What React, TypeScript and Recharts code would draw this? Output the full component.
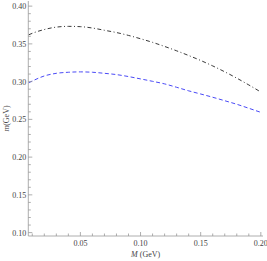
import { LineChart, Line, XAxis, YAxis } from 'recharts';

// M (GeV) sample points
const mass = [0.007, 0.01, 0.02, 0.03, 0.04, 0.05, 0.06, 0.07, 0.08, 0.09, 0.1, 0.11, 0.12, 0.13, 0.14, 0.15, 0.16, 0.17, 0.18, 0.19, 0.2];
// dot-dashed (black) curve
const upper = [0.362, 0.364, 0.369, 0.3722, 0.3732, 0.3728, 0.371, 0.368, 0.365, 0.3612, 0.3568, 0.352, 0.3466, 0.3408, 0.3346, 0.328, 0.3208, 0.313, 0.3046, 0.2956, 0.2862];
// dashed (blue) curve
const lower = [0.2985, 0.3008, 0.3075, 0.311, 0.3124, 0.3129, 0.3124, 0.311, 0.3093, 0.3067, 0.3036, 0.3004, 0.297, 0.2925, 0.2878, 0.2836, 0.2793, 0.2747, 0.27, 0.2647, 0.2593];

const xTicks = [0.01, 0.02, 0.03, 0.04, 0.05, 0.06, 0.07, 0.08, 0.09, 0.1, 0.11, 0.12, 0.13, 0.14, 0.15, 0.16, 0.17, 0.18, 0.19, 0.2];
const xMajor = ['0.05', '0.10', '0.15', '0.20'];
const yTicks = [0.1, 0.11, 0.12, 0.13, 0.14, 0.15, 0.16, 0.17, 0.18, 0.19, 0.2, 0.21, 0.22, 0.23, 0.24, 0.25, 0.26, 0.27, 0.28, 0.29, 0.3, 0.31, 0.32, 0.33, 0.34, 0.35, 0.36, 0.37, 0.38, 0.39, 0.4];
const yMajor = ['0.10', '0.15', '0.20', '0.25', '0.30', '0.35', '0.40'];

const data = mass.map((m, i) => ({ m, upper: upper[i], lower: lower[i] }));

const FRAME = '#999';
const FONT = 'Liberation Serif, serif';

const isMajor = (v: number, list: string[]) => list.includes(v.toFixed(2));

const BottomTick = ({ x, y, payload }: any) => {
  const major = isMajor(payload.value, xMajor);
  return (
    <g>
      <line x1={x} y1={y} x2={x} y2={y - (major ? 4 : 2.5)} stroke={FRAME} strokeWidth={0.8} />
      {major && (
        <text x={x} y={y + 10} textAnchor="middle" fontSize={8} fill="#444" fontFamily={FONT}>
          {payload.value.toFixed(2)}
        </text>
      )}
    </g>
  );
};

const TopTick = ({ x, y, payload }: any) => {
  const major = isMajor(payload.value, xMajor);
  return <line x1={x} y1={y} x2={x} y2={y + (major ? 4 : 2.5)} stroke={FRAME} strokeWidth={0.8} />;
};

const LeftTick = ({ x, y, payload }: any) => {
  const major = isMajor(payload.value, yMajor);
  return (
    <g>
      <line x1={x} y1={y} x2={x + (major ? 4 : 2.5)} y2={y} stroke={FRAME} strokeWidth={0.8} />
      {major && (
        <text x={x - 2} y={y + 3} textAnchor="end" fontSize={8} fill="#444" fontFamily={FONT}>
          {payload.value.toFixed(2)}
        </text>
      )}
    </g>
  );
};

const RightTick = ({ x, y, payload }: any) => {
  const major = isMajor(payload.value, yMajor);
  return <line x1={x} y1={y} x2={x - (major ? 4 : 2.5)} y2={y} stroke={FRAME} strokeWidth={0.8} />;
};

export default function App() {
  return (
    <div style={{ position: 'absolute', left: 0, top: 0, background: '#fff' }}>
      <LineChart width={267} height={261} data={data} margin={{ top: 1, right: 4, left: 0, bottom: 0 }}>
        <XAxis
          xAxisId="b"
          dataKey="m"
          type="number"
          domain={[0.0067, 0.2018]}
          ticks={xTicks}
          interval={0}
          tick={<BottomTick />}
          tickSize={0}
          tickMargin={0}
          tickLine={false}
          axisLine={{ stroke: FRAME, strokeWidth: 0.8 }}
          height={25}
          label={({ viewBox }: any) => (
            <text x={viewBox.x + viewBox.width / 2} y={viewBox.y + 21} textAnchor="middle" fontSize={8} fill="#444" fontFamily={FONT}>
              <tspan fontStyle="italic">M</tspan>
              <tspan> (GeV)</tspan>
            </text>
          )}
        />
        <XAxis
          xAxisId="t"
          orientation="top"
          dataKey="m"
          type="number"
          domain={[0.0067, 0.2018]}
          ticks={xTicks}
          interval={0}
          tick={<TopTick />}
          tickSize={0}
          tickMargin={0}
          tickLine={false}
          axisLine={{ stroke: FRAME, strokeWidth: 0.8 }}
          height={0}
        />
        <YAxis
          yAxisId="l"
          type="number"
          domain={[0.0955, 0.4068]}
          ticks={yTicks}
          interval={0}
          tick={<LeftTick />}
          tickSize={0}
          tickMargin={0}
          tickLine={false}
          axisLine={{ stroke: FRAME, strokeWidth: 0.8 }}
          width={28.3}
          label={({ viewBox }: any) => {
            const cy = viewBox.y + viewBox.height / 2;
            return (
              <text x={9} y={cy} textAnchor="middle" fontSize={8} fill="#444" fontFamily={FONT} transform={`rotate(-90, 9, ${cy})`}>
                <tspan fontStyle="italic">m</tspan>
                <tspan>(GeV)</tspan>
              </text>
            );
          }}
        />
        <YAxis
          yAxisId="r"
          orientation="right"
          type="number"
          domain={[0.0955, 0.4068]}
          ticks={yTicks}
          interval={0}
          tick={<RightTick />}
          tickSize={0}
          tickMargin={0}
          tickLine={false}
          axisLine={{ stroke: FRAME, strokeWidth: 0.8 }}
          width={0}
        />
        <Line
          xAxisId="b"
          yAxisId="l"
          type="monotone"
          dataKey="upper"
          stroke="#222"
          strokeWidth={0.9}
          strokeDasharray="4 2.5 1 2.5"
          dot={false}
          isAnimationActive={false}
        />
        <Line
          xAxisId="b"
          yAxisId="l"
          type="monotone"
          dataKey="lower"
          stroke="#3535f5"
          strokeWidth={0.9}
          strokeDasharray="4 2.5"
          dot={false}
          isAnimationActive={false}
        />
      </LineChart>
    </div>
  );
}
